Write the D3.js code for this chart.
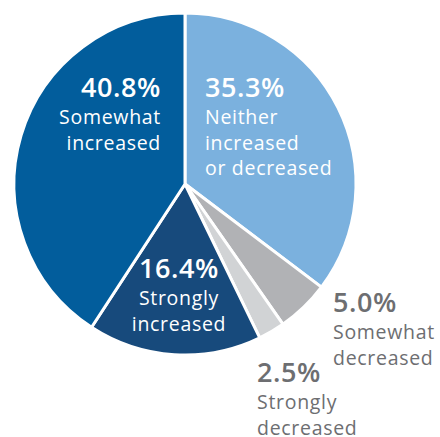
<!DOCTYPE html>
<html>
<head>
<meta charset="utf-8">
<script src="https://cdn.jsdelivr.net/npm/d3@7"></script>
<style>
  body { margin: 0; background: #fff; }
  svg { display: block; }
  text { font-family: "Open Sans", sans-serif; }
</style>
</head>
<body>
<svg width="440" height="437"></svg>
<script>
// slices in clockwise order starting at 12 o'clock
var categories = ["Neither increased or decreased", "Somewhat decreased", "Strongly decreased", "Strongly increased", "Somewhat increased"];
var values = [35.3, 5.0, 2.5, 16.4, 40.8];
var labelLines = [
    ["Neither", "increased", "or decreased"],
    ["Somewhat", "decreased"],
    ["Strongly", "decreased"],
    ["Strongly", "increased"],
    ["Somewhat", "increased"]
];
var sliceColors = ["#7bb1de", "#b1b2b5", "#d1d3d5", "#174a7c", "#025d9c"];

var svg = d3.select("svg"),
    width = +svg.attr("width"),
    height = +svg.attr("height");

var cx = 185, cy = 184, radius = 171;

var data = categories.map(function(c, i) {
    return { name: c, value: values[i], lines: labelLines[i], color: sliceColors[i] };
});

var pie = d3.pie().sort(null).value(function(d) { return d.value; });
var arc = d3.arc().innerRadius(0).outerRadius(radius);

var g = svg.append("g").attr("transform", "translate(" + cx + "," + cy + ")");

g.selectAll("path.slice")
    .data(pie(data))
    .enter()
    .append("path")
    .attr("class", "slice")
    .attr("d", arc)
    .attr("fill", function(d) { return d.data.color; })
    .attr("stroke", "#fff")
    .attr("stroke-width", 3)
    .attr("stroke-linejoin", "round");

// label placement relative to pie centre: x, first baseline, anchor, inside?
var labelLayout = {
    "Neither increased or decreased": { x: 20, y: -87, anchor: "start", inside: true },
    "Somewhat decreased": { x: 148, y: 128, anchor: "start", inside: false },
    "Strongly decreased": { x: 72, y: 198, anchor: "start", inside: false },
    "Strongly increased": { x: -6, y: 94, anchor: "middle", inside: true },
    "Somewhat increased": { x: -24, y: -87, anchor: "end", inside: true }
};

var labels = g.selectAll("g.label")
    .data(data)
    .enter()
    .append("g")
    .attr("class", "label")
    .attr("transform", function(d) {
        var p = labelLayout[d.name];
        return "translate(" + p.x + "," + p.y + ")";
    });

labels.append("text")
    .attr("text-anchor", function(d) { return labelLayout[d.name].anchor; })
    .attr("fill", function(d) { return labelLayout[d.name].inside ? "#fff" : "#6d6e71"; })
    .attr("font-size", 27)
    .attr("font-weight", 600)
    .attr("letter-spacing", 0.6)
    .text(function(d) { return d3.format(".1f")(d.value) + "%"; });

labels.each(function(d) {
    var p = labelLayout[d.name];
    var t = d3.select(this).append("text")
        .attr("text-anchor", p.anchor)
        .attr("fill", p.inside ? "#fff" : "#6d6e71")
        .attr("font-size", 19.5)
        .attr("letter-spacing", 0.7);
    d.lines.forEach(function(line, i) {
        t.append("tspan")
            .attr("x", 0)
            .attr("y", 27 + i * 25.5)
            .text(line);
    });
});
</script>
</body>
</html>
